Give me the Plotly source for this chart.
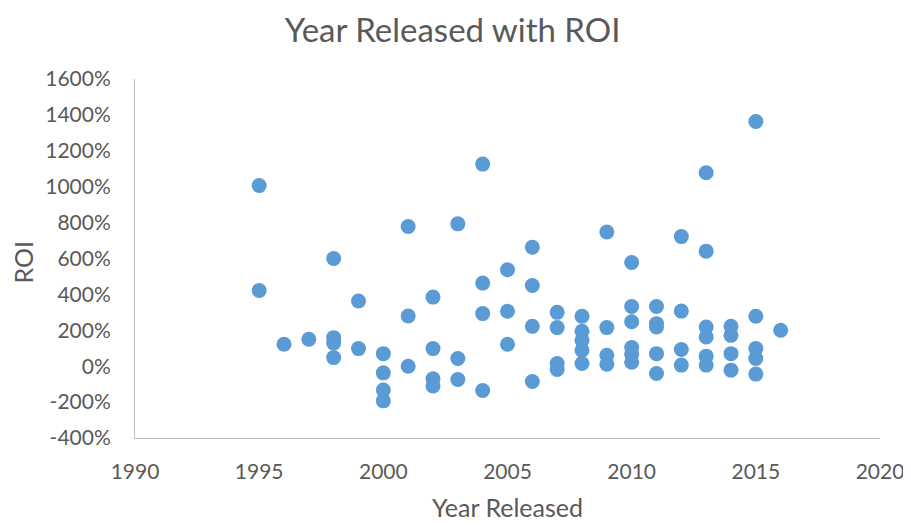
import plotly.graph_objects as go

years = [1995, 1995,
         1996, 1997,
         1998, 1998, 1998, 1998,
         1999, 1999,
         2000, 2000, 2000, 2000,
         2001, 2001, 2001,
         2002, 2002, 2002, 2002,
         2003, 2003, 2003,
         2004, 2004, 2004, 2004,
         2005, 2005, 2005,
         2006, 2006, 2006, 2006,
         2007, 2007, 2007, 2007,
         2008, 2008, 2008, 2008, 2008,
         2009, 2009, 2009, 2009,
         2010, 2010, 2010, 2010, 2010, 2010,
         2011, 2011, 2011, 2011, 2011,
         2012, 2012, 2012, 2012,
         2013, 2013, 2013, 2013, 2013, 2013,
         2014, 2014, 2014, 2014,
         2015, 2015, 2015, 2015, 2015,
         2016]
roi_pct = [1006, 422,
           122, 150,
           600, 159, 130, 48,
           363, 98,
           70, -37, -133, -193,
           778, 280, 0,
           385, 98, -70, -110,
           793, 43, -74,
           1126, 463, 293, -135,
           537, 306, 122,
           663, 450, 222, -85,
           300, 215, 15, -18,
           278, 195, 144, 89, 15,
           748, 215, 61, 11,
           578, 333, 248, 104, 67, 22,
           333, 237, 218, 70, -41,
           722, 307, 93, 6,
           1078, 641, 218, 163, 56, 6,
           222, 172, 70, -22,
           1363, 278, 98, 43, -44,
           200]

x_ticks = [1990, 1995, 2000, 2005, 2010, 2015, 2020]
y_ticks = [-400, -200, 0, 200, 400, 600, 800, 1000, 1200, 1400, 1600]
y_tick_labels = [f"{v}%" for v in y_ticks]

FONT = "Lato, Carlito, sans-serif"
GRAY = "#595959"

fig = go.Figure(go.Scatter(
    x=years, y=roi_pct, mode="markers",
    marker=dict(size=15, color="#5b9bd5"),
    showlegend=False,
))

fig.update_layout(
    width=911, height=525,
    paper_bgcolor="white", plot_bgcolor="white",
    margin=dict(l=127, r=39, t=71, b=95, autoexpand=False),
    title=dict(text="Year Released with ROI", x=0.488, xref="container", xanchor="center",
               y=0.958, yanchor="middle",
               font=dict(family=FONT, size=33, color=GRAY)),
    xaxis=dict(range=[1990, 2020], tickvals=x_ticks, showgrid=False, zeroline=False,
               showline=True, linecolor="#bfbfbf", linewidth=1, ticks="",
               automargin=False, ticklabelstandoff=15,
               tickfont=dict(family=FONT, size=21, color=GRAY),
               title=dict(text="Year Released", font=dict(family=FONT, size=25, color=GRAY), standoff=17)),
    yaxis=dict(range=[-400, 1600], tickvals=y_ticks, ticktext=y_tick_labels,
               showgrid=False, zeroline=False,
               showline=True, linecolor="#bfbfbf", linewidth=1, ticks="",
               automargin=False, ticklabelstandoff=19,
               tickfont=dict(family=FONT, size=21, color=GRAY)),
    annotations=[dict(text="ROI", textangle=-90, xref="paper", yref="paper",
                      x=-0.1497, y=0.49, xanchor="center", yanchor="middle",
                      showarrow=False, font=dict(family=FONT, size=25, color=GRAY))],
    font=dict(family=FONT, color=GRAY),
)

fig.write_html("out.html")
